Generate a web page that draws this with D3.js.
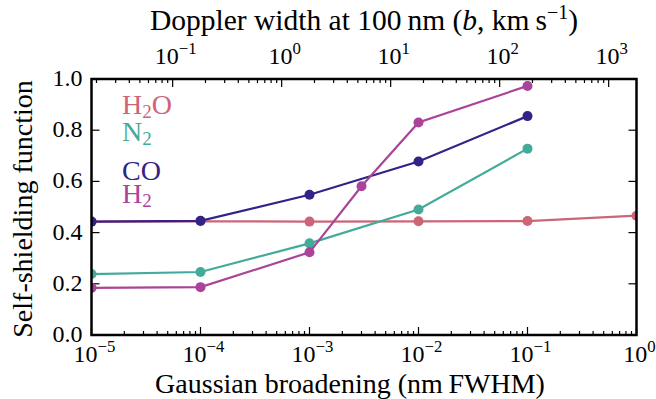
<!DOCTYPE html>
<html><head><meta charset="utf-8">
<script src="https://cdn.jsdelivr.net/npm/d3@7"></script>
<style>
html,body{margin:0;padding:0;background:#fff;}
</style></head>
<body>
<svg id="chart" width="656" height="399"></svg>
<script>
// ---- data ----
const seriesNames = ["H2O", "N2", "CO", "H2"];
const h2oX = [1e-5, 1e-4, 1e-3, 1e-2, 1e-1, 1];
const h2oY = [0.443, 0.444, 0.443, 0.444, 0.445, 0.466];
const n2X = [1e-5, 1e-4, 1e-3, 1e-2, 1e-1];
const n2Y = [0.238, 0.246, 0.358, 0.490, 0.728];
const coX = [1e-5, 1e-4, 1e-3, 1e-2, 1e-1];
const coY = [0.443, 0.446, 0.548, 0.678, 0.855];
const h2X = [1e-5, 1e-4, 1e-3, 3e-3, 1e-2, 1e-1];
const h2Y = [0.184, 0.187, 0.323, 0.581, 0.830, 0.973];
const yTicks = [0.0, 0.2, 0.4, 0.6, 0.8, 1.0];
const bottomTickExps = [-5, -4, -3, -2, -1, 0];
const topTickExps = [-1, 0, 1, 2, 3];
const colors = {H2O: "#CC6677", N2: "#44AA99", CO: "#332288", H2: "#AA4499"};
// FWHM at 100 nm per km/s of Doppler b: 2*sqrt(ln2)*100nm/c
const conv = 2 * Math.sqrt(Math.LN2) * 100 / 299792.458;

const svg = d3.select("#chart");
const FONT = '"Liberation Serif"';
const m = {l: 91.5, r: 636.5, t: 79, b: 335};
const x = d3.scaleLog().domain([1e-5, 1]).range([m.l, m.r]);
const xTop = d3.scaleLog().domain([1e-5 / conv, 1 / conv]).range([m.l, m.r]);
const y = d3.scaleLinear().domain([0, 1]).range([m.b, m.t]);

svg.append("defs").append("clipPath").attr("id", "clip")
  .append("rect").attr("x", m.l).attr("y", m.t).attr("width", m.r - m.l).attr("height", m.b - m.t);

function logTicks(scale) {
  const [a, b] = scale.domain();
  const out = [];
  for (let e = Math.floor(Math.log10(a)); e <= Math.ceil(Math.log10(b)); e++) {
    for (let k = 1; k <= 9; k++) {
      const v = k * Math.pow(10, e);
      if (v >= a * 0.9999 && v <= b * 1.0001) out.push({v, major: k === 1});
    }
  }
  return out;
}
const tickG = svg.append("g").attr("stroke", "#000").attr("stroke-width", 1.2);
const MAJ = 8, MIN = 4;
logTicks(x).forEach(t => {
  const L = t.major ? MAJ : MIN;
  tickG.append("line").attr("x1", x(t.v)).attr("x2", x(t.v)).attr("y1", m.b).attr("y2", m.b - L);
});
logTicks(xTop).forEach(t => {
  const L = t.major ? MAJ : MIN;
  tickG.append("line").attr("x1", xTop(t.v)).attr("x2", xTop(t.v)).attr("y1", m.t).attr("y2", m.t + L);
});
yTicks.forEach(v => {
  tickG.append("line").attr("x1", m.l).attr("x2", m.l + MAJ).attr("y1", y(v)).attr("y2", y(v));
  tickG.append("line").attr("x1", m.r).attr("x2", m.r - MAJ).attr("y1", y(v)).attr("y2", y(v));
});

function txt(g, size) {
  return g.append("text").style("font-family", FONT).attr("font-size", size);
}

function powLabel(g, px, py, exp, size) {
  const t = txt(g, size).attr("x", px).attr("y", py).attr("text-anchor", "middle");
  t.append("tspan").text("10");
  t.append("tspan").attr("dy", -size * 0.42).attr("font-size", size * 0.7)
    .text(exp < 0 ? "\u2212" + (-exp) : String(exp));
}
const lab = svg.append("g");
bottomTickExps.forEach(e => powLabel(lab, x(Math.pow(10, e)) + 3, 362, e, 24));
topTickExps.forEach(e => powLabel(lab, xTop(Math.pow(10, e)) + 3, 64, e, 24));
yTicks.forEach(v => {
  txt(lab, 24).attr("x", m.l - 9).attr("y", y(v) + 7).attr("text-anchor", "end").text(v.toFixed(1));
});

// axis titles
txt(svg, 28).attr("x", 350).attr("y", 393).attr("text-anchor", "middle")
  .text("Gaussian broadening (nm\u2009FWHM)");
const tt = txt(svg, 29.5).attr("x", 364).attr("y", 30).attr("text-anchor", "middle");
tt.append("tspan").text("Doppler width at 100\u2009nm (");
tt.append("tspan").attr("font-style", "italic").text("b");
tt.append("tspan").text(", km\u2009s");
tt.append("tspan").attr("dy", -11).attr("font-size", 20).text("\u22121");
tt.append("tspan").attr("dy", 11).text(")");
txt(svg, 28).attr("transform", `translate(32,${(m.t + m.b) / 2 + 2}) rotate(-90)`)
  .attr("text-anchor", "middle").text("Self-shielding function");

// data series
const series = [
  {name: "H2O", xs: h2oX, ys: h2oY},
  {name: "N2", xs: n2X, ys: n2Y},
  {name: "CO", xs: coX, ys: coY},
  {name: "H2", xs: h2X, ys: h2Y}
];
const plot = svg.append("g").attr("clip-path", "url(#clip)");
const line = d3.line().x(d => x(d[0])).y(d => y(d[1]));
series.forEach(s => {
  const pts = s.xs.map((v, i) => [v, s.ys[i]]);
  plot.append("path").datum(pts).attr("d", line).attr("fill", "none")
    .attr("stroke", colors[s.name]).attr("stroke-width", 2.2);
  plot.selectAll(null).data(pts).enter().append("circle")
    .attr("cx", d => x(d[0])).attr("cy", d => y(d[1])).attr("r", 5)
    .attr("fill", colors[s.name]);
});

// frame
svg.append("rect").attr("x", m.l).attr("y", m.t).attr("width", m.r - m.l).attr("height", m.b - m.t)
  .attr("fill", "none").attr("stroke", "#000").attr("stroke-width", 2.5);

// legend (text only)
const legendLabels = {H2O: ["H", "2", "O"], N2: ["N", "2", ""], CO: ["CO", "", ""], H2: ["H", "2", ""]};
const legendY = [114, 141, 180, 203];
seriesNames.forEach((n, i) => {
  const parts = legendLabels[n];
  const t = txt(svg, 28).attr("x", 122).attr("y", legendY[i]).attr("fill", colors[n]);
  t.append("tspan").text(parts[0]);
  if (parts[1]) {
    t.append("tspan").attr("dy", 4).attr("font-size", 19).text(parts[1]);
    if (parts[2]) t.append("tspan").attr("dy", -4).text(parts[2]);
  }
});
</script>
</body></html>
